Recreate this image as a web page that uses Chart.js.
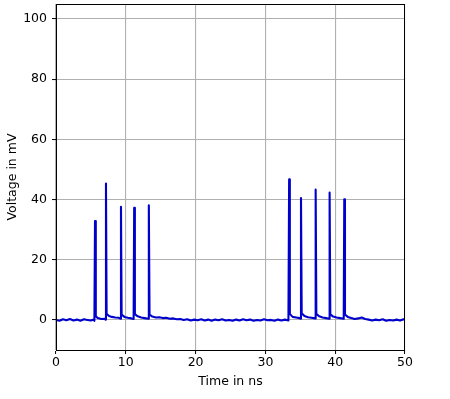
<!DOCTYPE html>
<html>
<head>
<meta charset="utf-8">
<script src="https://cdn.jsdelivr.net/npm/chart.js@4"></script>
<style>
html,body{margin:0;padding:0;background:#fff;}
#c{display:block;}
</style>
</head>
<body>
<canvas id="c" width="450" height="399"></canvas>
<script>
const time = [0,0.5,1.0,1.5,2.0,2.5,3.0,3.5,4.0,4.5,5.0,5.4,5.5,5.59,5.7,6.0,6.5,7.0,7.08,7.16,7.25,7.6,8.0,8.5,9.0,9.23,9.31,9.4,9.8,10.3,10.8,11.12,11.2,11.3,11.7,12.2,12.7,13.22,13.3,13.4,13.8,14.3,14.8,15.3,15.8,16.3,16.8,17.3,17.8,18.3,18.8,19.3,19.8,20.3,20.8,21.3,21.8,22.3,22.8,23.3,23.8,24.3,24.8,25.3,25.8,26.3,26.8,27.3,27.8,28.3,28.8,29.3,29.8,30.3,30.8,31.3,31.8,32.3,32.8,33.3,33.4,33.5,33.9,34.4,34.9,35.02,35.1,35.2,35.6,36.1,36.6,37.12,37.2,37.3,37.7,38.2,38.7,39.12,39.2,39.3,39.7,40.2,40.7,41.22,41.3,41.4,41.8,42.3,42.8,43.3,43.8,44.3,44.8,45.3,45.8,46.3,46.8,47.3,47.8,48.3,48.8,49.3,49.8,50.0];
const voltage = [0.0,-0.3,0.2,-0.1,0.3,-0.2,0.1,-0.3,0.2,0.0,-0.2,0.1,-0.3,32.9,1.2,0.6,0.3,0.4,0.1,45.3,2.0,1.3,1.0,0.8,0.7,0.4,37.6,1.8,1.0,0.7,0.5,0.3,37.3,1.9,1.2,0.8,0.6,0.4,38.1,1.8,1.1,0.8,0.9,0.6,0.7,0.4,0.5,0.2,0.3,0.0,0.2,-0.2,0.1,-0.1,0.2,-0.2,0.1,-0.3,0.1,-0.1,0.2,-0.2,0.0,-0.3,0.1,-0.2,0.2,-0.1,0.1,-0.3,0.0,-0.2,0.2,-0.1,0.0,-0.3,0.1,-0.2,0.1,-0.2,46.7,2.0,1.0,0.8,0.6,0.4,40.5,2.2,1.3,0.9,0.7,0.5,43.3,2.0,1.2,0.8,0.6,0.4,42.3,1.9,1.1,0.8,0.6,0.4,40.1,1.8,1.0,0.6,0.3,0.5,0.8,0.3,0.1,-0.2,0.1,-0.1,0.2,-0.3,0.0,-0.2,0.1,-0.2,0.2,0.0];
const xTicks = [0,10,20,30,40,50];
const yTicks = [0,20,40,60,80,100];
const xLabel = 'Time in ns';
const yLabel = 'Voltage in mV';

const FONT = {family:'"DejaVu Sans", sans-serif', size:12.5};

const frame = {
  id:'frame',
  afterDatasetsDraw(chart){
    const a = chart.chartArea, ctx = chart.ctx;
    ctx.save();
    ctx.strokeStyle = '#000';
    ctx.lineWidth = 1;
    ctx.strokeRect(Math.round(a.left)+0.5, Math.round(a.top)+0.5, Math.round(a.right-a.left)-1, Math.round(a.bottom-a.top));
    ctx.restore();
  }
};

function noPad(s){ s.paddingTop = 0; s.paddingBottom = 0; s.paddingLeft = 0; s.paddingRight = 0; }

new Chart(document.getElementById('c'), {
  type:'line',
  data:{
    datasets:[{
      data: time.map((t,i)=>({x:t, y:voltage[i]})),
      borderColor:'#0000cd',
      borderWidth:2.1,
      borderJoinStyle:'round',
      borderCapStyle:'round',
      pointRadius:0,
      tension:0,
      fill:false
    }]
  },
  options:{
    responsive:false,
    animation:false,
    devicePixelRatio:1,
    layout:{padding:{left:0, right:45, top:4, bottom:0}},
    plugins:{legend:{display:false}, tooltip:{enabled:false}},
    scales:{
      x:{
        type:'linear', min:0, max:50,
        afterBuildTicks(s){ s.ticks = xTicks.map(v=>({value:v})); },
        afterFit(s){ s.height = 49; noPad(s); },
        grid:{color:'#b0b0b0', lineWidth:1.1, tickColor:'#000', tickLength:4, tickWidth:1},
        border:{color:'#000', width:1},
        ticks:{color:'#000', font:FONT, padding:1, maxRotation:0, autoSkip:false},
        title:{display:true, text:xLabel, color:'#000', font:FONT, padding:{top:4, bottom:10}}
      },
      y:{
        type:'linear', min:-10, max:105,
        afterBuildTicks(s){ s.ticks = yTicks.map(v=>({value:v})); },
        afterFit(s){ s.width = 56; noPad(s); },
        grid:{color:'#b0b0b0', lineWidth:1.1, tickColor:'#000', tickLength:4, tickWidth:1},
        border:{color:'#000', width:1},
        ticks:{color:'#000', font:FONT, padding:5, autoSkip:false},
        title:{display:true, text:yLabel, color:'#000', font:FONT, padding:{top:5, bottom:4}}
      }
    }
  },
  plugins:[frame]
});
</script>
</body>
</html>
